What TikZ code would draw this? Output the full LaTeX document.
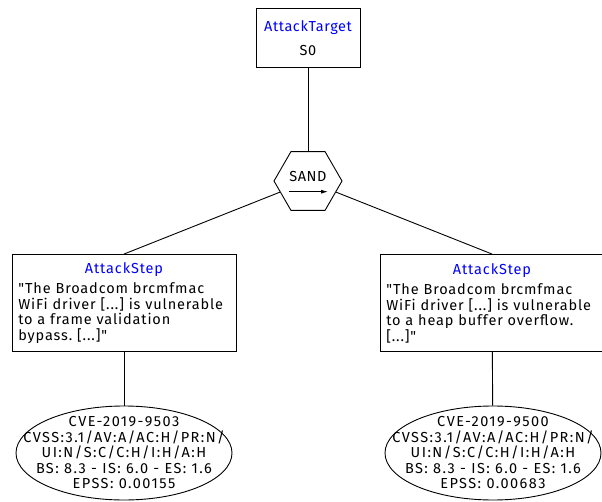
\documentclass[tikz,border=0pt]{standalone}
\usepackage{fontspec}
\setmainfont{Fira Sans}[Ligatures=TeXOff]
\newfontfamily\topfont{Fira Sans}[Ligatures=TeXOff,LetterSpace=4]
\newfontfamily\boxfont{Fira Sans}[Ligatures=TeXOff,LetterSpace=6]
\newfontfamily\cvefont{Fira Sans}[Ligatures=TeXOff,LetterSpace=10]
\usetikzlibrary{shapes.geometric,arrows.meta}
\definecolor{lblblue}{RGB}{0,0,255}
\frenchspacing
\begin{document}
\begin{tikzpicture}[x=1pt,y=-1pt,
  lin/.style={draw=black,line width=0.9pt},
  targetbox/.style={lin,rectangle,minimum width=104pt,minimum height=59pt,inner sep=0pt,align=center,font=\topfont\fontsize{14.5}{15.5}\selectfont},
  hexbox/.style={lin,regular polygon,regular polygon sides=6,minimum size=68pt,inner sep=0pt},
  stepbox/.style={lin,rectangle,minimum width=224pt,minimum height=97pt,inner xsep=6.3pt,inner ysep=0pt,text width=211.4pt,align=left,font=\boxfont\fontsize{14.5}{15.5}\selectfont},
  cvebox/.style={lin,ellipse,minimum width=216pt,minimum height=94pt,inner xsep=-45pt,inner ysep=-25pt,align=center,font=\cvefont\fontsize{14.5}{15.5}\selectfont},
  edge/.style={draw=black,line width=0.9pt}]
\useasboundingbox (0,0) rectangle (602,502);
\fill[white] (0,0) rectangle (602,502);

\node[targetbox] (top) at (308,38) {\textcolor{lblblue}{AttackTarget}\\[8pt]S0};

\node[hexbox] (sand) at (308,181) {};
\node[inner sep=0pt,anchor=base,font=\topfont\fontsize{14.5}{15.5}\selectfont] (sandlbl) at (308,181.7) {SAND};
\coordinate (arrA) at (289,191.7);
\coordinate (arrB) at (328,191.7);
\draw[line width=0.9pt,-{Latex[length=7pt,width=4pt]}] (arrA) -- (arrB);

\node[stepbox] (s1) at (124,303) {\makebox[\linewidth]{\textcolor{lblblue}{AttackStep}}\\[5pt]"The Broadcom brcmfmac\\WiFi driver [...] is vulnerable\\to a frame validation\\bypass. [...]"};
\node[stepbox] (s2) at (492,303) {\makebox[\linewidth]{\textcolor{lblblue}{AttackStep}}\\[5pt]"The Broadcom brcmfmac\\WiFi driver [...] is vulnerable\\to a heap buffer overflow.\\{}[...]"};

\node[cvebox] (e1) at (124,453) {CVE-2019-9503\\CVSS:3.1/AV:A/AC:H/PR:N/\\UI:N/S:C/C:H/I:H/A:H\\BS: 8.3 - IS: 6.0 - ES: 1.6\\EPSS: 0.00155};
\node[cvebox] (e2) at (493,453) {CVE-2019-9500\\CVSS:3.1/AV:A/AC:H/PR:N/\\UI:N/S:C/C:H/I:H/A:H\\BS: 8.3 - IS: 6.0 - ES: 1.6\\EPSS: 0.00683};

\draw[edge] (top) -- (sand);
\draw[edge] (sand) -- (s1.north);
\draw[edge] (sand) -- (s2.north);
\draw[edge] (s1) -- (e1);
\draw[edge] (s2) -- (e2);
\end{tikzpicture}
\end{document}
